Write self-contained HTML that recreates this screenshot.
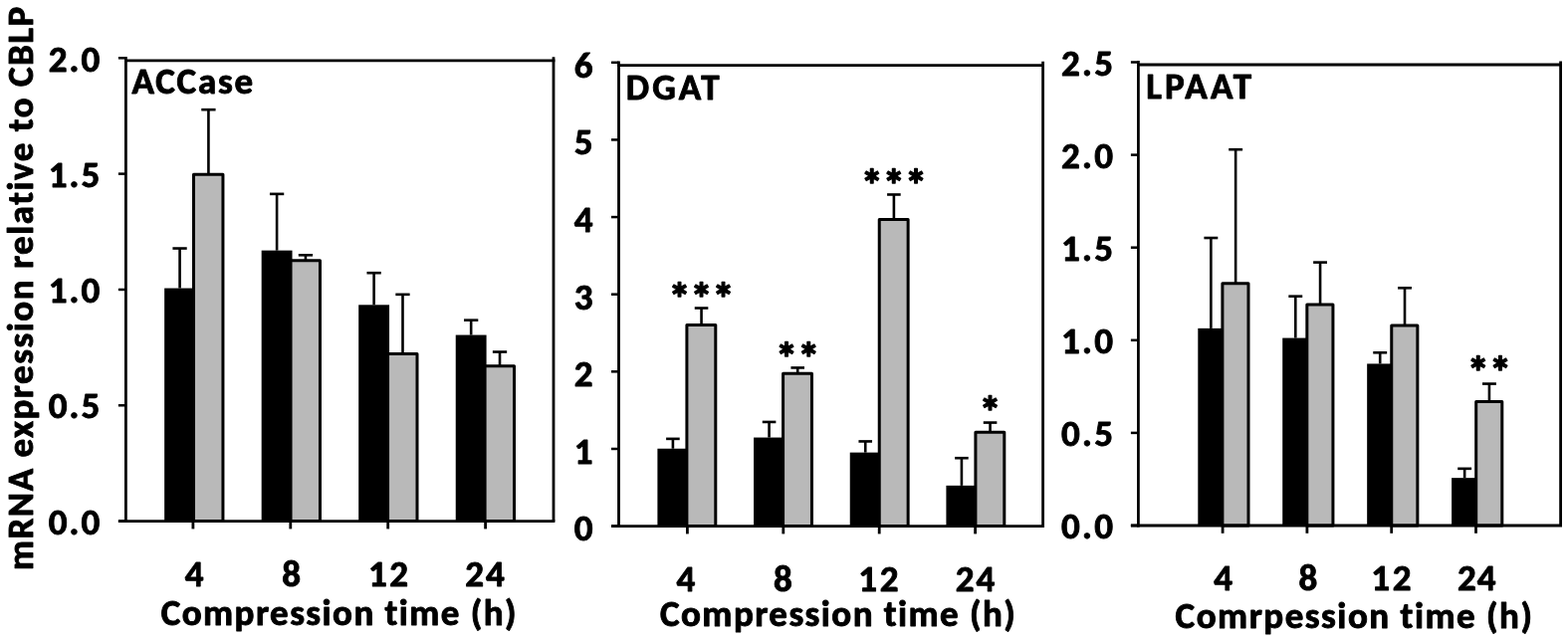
<!DOCTYPE html>
<html><head><meta charset="utf-8"><title>mRNA expression</title>
<style>html,body{margin:0;padding:0;background:#fff;}svg{display:block;filter:blur(0.5px);}</style></head>
<body><svg width="1575" height="645" viewBox="0 0 1575 645" font-family="Carlito, 'Liberation Sans', sans-serif" font-weight="bold" fill="#000" stroke="#000">
<rect x="0" y="0" width="1575" height="645" fill="#fff" stroke="none"/>
<g stroke="#000" fill="none" stroke-linecap="butt">
<rect x="165.15" y="289.55" width="30.85" height="234.05" fill="#000" stroke="none"/>
<rect x="194.50" y="175.32" width="29.45" height="348.28" fill="#b9b9b9" stroke="#000" stroke-width="3.0" stroke-linejoin="round"/>
<line x1="180.57" y1="289.55" x2="180.57" y2="249.54" stroke-width="2.6"/>
<line x1="173.42" y1="249.54" x2="187.72" y2="249.54" stroke-width="2.6"/>
<line x1="209.42" y1="175.32" x2="209.42" y2="110.18" stroke-width="2.6"/>
<line x1="202.27" y1="110.18" x2="216.57" y2="110.18" stroke-width="2.6"/>
<rect x="262.68" y="251.63" width="30.85" height="271.97" fill="#000" stroke="none"/>
<rect x="292.03" y="261.87" width="29.45" height="261.73" fill="#b9b9b9" stroke="#000" stroke-width="3.0" stroke-linejoin="round"/>
<line x1="278.10" y1="251.63" x2="278.10" y2="194.87" stroke-width="2.6"/>
<line x1="270.95" y1="194.87" x2="285.25" y2="194.87" stroke-width="2.6"/>
<line x1="306.95" y1="261.87" x2="306.95" y2="256.29" stroke-width="2.6"/>
<line x1="299.81" y1="256.29" x2="314.10" y2="256.29" stroke-width="2.6"/>
<rect x="360.21" y="306.30" width="30.85" height="217.30" fill="#000" stroke="none"/>
<rect x="389.56" y="355.39" width="29.45" height="168.21" fill="#b9b9b9" stroke="#000" stroke-width="3.0" stroke-linejoin="round"/>
<line x1="375.63" y1="306.30" x2="375.63" y2="274.20" stroke-width="2.6"/>
<line x1="368.49" y1="274.20" x2="382.78" y2="274.20" stroke-width="2.6"/>
<line x1="404.49" y1="355.39" x2="404.49" y2="295.84" stroke-width="2.6"/>
<line x1="397.34" y1="295.84" x2="411.63" y2="295.84" stroke-width="2.6"/>
<rect x="457.74" y="336.55" width="30.85" height="187.05" fill="#000" stroke="none"/>
<rect x="487.09" y="367.72" width="29.45" height="155.88" fill="#b9b9b9" stroke="#000" stroke-width="3.0" stroke-linejoin="round"/>
<line x1="473.17" y1="336.55" x2="473.17" y2="321.66" stroke-width="2.6"/>
<line x1="466.02" y1="321.66" x2="480.31" y2="321.66" stroke-width="2.6"/>
<line x1="502.02" y1="367.72" x2="502.02" y2="353.53" stroke-width="2.6"/>
<line x1="494.87" y1="353.53" x2="509.17" y2="353.53" stroke-width="2.6"/>
<line x1="126.40" y1="56.90" x2="126.40" y2="525.00" stroke-width="2.8"/>
<line x1="118.90" y1="523.60" x2="557.40" y2="523.60" stroke-width="2.8"/>
<line x1="125.00" y1="60.80" x2="557.40" y2="60.80" stroke-width="2.8"/>
<line x1="556.00" y1="57.30" x2="556.00" y2="523.60" stroke-width="2.8"/>
<line x1="118.90" y1="523.60" x2="126.40" y2="523.60" stroke-width="2.5"/>
<line x1="118.90" y1="407.28" x2="126.40" y2="407.28" stroke-width="2.5"/>
<line x1="118.90" y1="290.95" x2="126.40" y2="290.95" stroke-width="2.5"/>
<line x1="118.90" y1="174.62" x2="126.40" y2="174.62" stroke-width="2.5"/>
<line x1="118.90" y1="58.30" x2="126.40" y2="58.30" stroke-width="2.5"/>
<line x1="193.90" y1="523.60" x2="193.90" y2="531.40" stroke-width="2.8"/>
<line x1="291.80" y1="523.60" x2="291.80" y2="531.40" stroke-width="2.8"/>
<line x1="389.70" y1="523.60" x2="389.70" y2="531.40" stroke-width="2.8"/>
<line x1="487.60" y1="523.60" x2="487.60" y2="531.40" stroke-width="2.8"/>
<rect x="660.40" y="450.73" width="31.00" height="77.87" fill="#000" stroke="none"/>
<rect x="689.90" y="326.60" width="28.90" height="202.00" fill="#b9b9b9" stroke="#000" stroke-width="3.0" stroke-linejoin="round"/>
<line x1="675.90" y1="450.73" x2="675.90" y2="440.87" stroke-width="2.6"/>
<line x1="669.10" y1="440.87" x2="682.70" y2="440.87" stroke-width="2.6"/>
<line x1="704.55" y1="326.60" x2="704.55" y2="309.52" stroke-width="2.6"/>
<line x1="697.75" y1="309.52" x2="711.35" y2="309.52" stroke-width="2.6"/>
<rect x="757.07" y="439.55" width="31.00" height="89.05" fill="#000" stroke="none"/>
<rect x="786.57" y="375.35" width="28.90" height="153.25" fill="#b9b9b9" stroke="#000" stroke-width="3.0" stroke-linejoin="round"/>
<line x1="772.57" y1="439.55" x2="772.57" y2="423.95" stroke-width="2.6"/>
<line x1="765.77" y1="423.95" x2="779.37" y2="423.95" stroke-width="2.6"/>
<line x1="801.22" y1="375.35" x2="801.22" y2="369.45" stroke-width="2.6"/>
<line x1="794.42" y1="369.45" x2="808.02" y2="369.45" stroke-width="2.6"/>
<rect x="853.74" y="454.62" width="31.00" height="73.98" fill="#000" stroke="none"/>
<rect x="883.24" y="220.55" width="28.90" height="308.05" fill="#b9b9b9" stroke="#000" stroke-width="3.0" stroke-linejoin="round"/>
<line x1="869.24" y1="454.62" x2="869.24" y2="443.44" stroke-width="2.6"/>
<line x1="862.44" y1="443.44" x2="876.04" y2="443.44" stroke-width="2.6"/>
<line x1="897.89" y1="220.55" x2="897.89" y2="195.48" stroke-width="2.6"/>
<line x1="891.09" y1="195.48" x2="904.69" y2="195.48" stroke-width="2.6"/>
<rect x="950.41" y="487.84" width="31.00" height="40.76" fill="#000" stroke="none"/>
<rect x="979.91" y="434.28" width="28.90" height="94.32" fill="#b9b9b9" stroke="#000" stroke-width="3.0" stroke-linejoin="round"/>
<line x1="965.91" y1="487.84" x2="965.91" y2="460.21" stroke-width="2.6"/>
<line x1="959.11" y1="460.21" x2="972.71" y2="460.21" stroke-width="2.6"/>
<line x1="994.56" y1="434.28" x2="994.56" y2="424.57" stroke-width="2.6"/>
<line x1="987.76" y1="424.57" x2="1001.36" y2="424.57" stroke-width="2.6"/>
<line x1="621.50" y1="61.40" x2="621.50" y2="530.00" stroke-width="2.8"/>
<line x1="614.00" y1="528.60" x2="1049.00" y2="528.60" stroke-width="2.8"/>
<line x1="620.10" y1="65.60" x2="1049.00" y2="65.60" stroke-width="2.8"/>
<line x1="1047.60" y1="61.80" x2="1047.60" y2="528.60" stroke-width="2.8"/>
<line x1="614.00" y1="528.60" x2="621.50" y2="528.60" stroke-width="2.5"/>
<line x1="614.00" y1="450.97" x2="621.50" y2="450.97" stroke-width="2.5"/>
<line x1="614.00" y1="373.33" x2="621.50" y2="373.33" stroke-width="2.5"/>
<line x1="614.00" y1="295.70" x2="621.50" y2="295.70" stroke-width="2.5"/>
<line x1="614.00" y1="218.07" x2="621.50" y2="218.07" stroke-width="2.5"/>
<line x1="614.00" y1="140.43" x2="621.50" y2="140.43" stroke-width="2.5"/>
<line x1="614.00" y1="62.80" x2="621.50" y2="62.80" stroke-width="2.5"/>
<line x1="690.40" y1="528.60" x2="690.40" y2="536.40" stroke-width="2.8"/>
<line x1="786.80" y1="528.60" x2="786.80" y2="536.40" stroke-width="2.8"/>
<line x1="883.20" y1="528.60" x2="883.20" y2="536.40" stroke-width="2.8"/>
<line x1="979.60" y1="528.60" x2="979.60" y2="536.40" stroke-width="2.8"/>
<rect x="1203.30" y="329.88" width="26.10" height="198.12" fill="#000" stroke="none"/>
<rect x="1227.90" y="284.64" width="26.10" height="243.36" fill="#b9b9b9" stroke="#000" stroke-width="3.0" stroke-linejoin="round"/>
<line x1="1216.35" y1="329.88" x2="1216.35" y2="239.02" stroke-width="2.6"/>
<line x1="1209.40" y1="239.02" x2="1223.30" y2="239.02" stroke-width="2.6"/>
<line x1="1241.15" y1="284.64" x2="1241.15" y2="150.20" stroke-width="2.6"/>
<line x1="1234.20" y1="150.20" x2="1248.10" y2="150.20" stroke-width="2.6"/>
<rect x="1288.23" y="339.57" width="26.10" height="188.43" fill="#000" stroke="none"/>
<rect x="1312.83" y="306.05" width="26.10" height="221.95" fill="#b9b9b9" stroke="#000" stroke-width="3.0" stroke-linejoin="round"/>
<line x1="1301.28" y1="339.57" x2="1301.28" y2="297.67" stroke-width="2.6"/>
<line x1="1294.33" y1="297.67" x2="1308.23" y2="297.67" stroke-width="2.6"/>
<line x1="1326.08" y1="306.05" x2="1326.08" y2="263.60" stroke-width="2.6"/>
<line x1="1319.13" y1="263.60" x2="1333.03" y2="263.60" stroke-width="2.6"/>
<rect x="1373.16" y="365.45" width="26.10" height="162.55" fill="#000" stroke="none"/>
<rect x="1397.76" y="327.09" width="26.10" height="200.91" fill="#b9b9b9" stroke="#000" stroke-width="3.0" stroke-linejoin="round"/>
<line x1="1386.21" y1="365.45" x2="1386.21" y2="354.28" stroke-width="2.6"/>
<line x1="1379.26" y1="354.28" x2="1393.16" y2="354.28" stroke-width="2.6"/>
<line x1="1411.01" y1="327.09" x2="1411.01" y2="289.29" stroke-width="2.6"/>
<line x1="1404.06" y1="289.29" x2="1417.96" y2="289.29" stroke-width="2.6"/>
<rect x="1458.09" y="480.15" width="26.10" height="47.85" fill="#000" stroke="none"/>
<rect x="1482.69" y="403.62" width="26.10" height="124.38" fill="#b9b9b9" stroke="#000" stroke-width="3.0" stroke-linejoin="round"/>
<line x1="1471.14" y1="480.15" x2="1471.14" y2="470.84" stroke-width="2.6"/>
<line x1="1464.19" y1="470.84" x2="1478.09" y2="470.84" stroke-width="2.6"/>
<line x1="1495.94" y1="403.62" x2="1495.94" y2="385.56" stroke-width="2.6"/>
<line x1="1488.99" y1="385.56" x2="1502.89" y2="385.56" stroke-width="2.6"/>
<line x1="1143.40" y1="61.10" x2="1143.40" y2="529.40" stroke-width="2.8"/>
<line x1="1135.90" y1="528.00" x2="1569.00" y2="528.00" stroke-width="2.8"/>
<line x1="1142.00" y1="65.00" x2="1569.00" y2="65.00" stroke-width="2.8"/>
<line x1="1567.60" y1="61.50" x2="1567.60" y2="528.00" stroke-width="2.8"/>
<line x1="1135.90" y1="528.00" x2="1143.40" y2="528.00" stroke-width="2.5"/>
<line x1="1135.90" y1="434.90" x2="1143.40" y2="434.90" stroke-width="2.5"/>
<line x1="1135.90" y1="341.80" x2="1143.40" y2="341.80" stroke-width="2.5"/>
<line x1="1135.90" y1="248.70" x2="1143.40" y2="248.70" stroke-width="2.5"/>
<line x1="1135.90" y1="155.60" x2="1143.40" y2="155.60" stroke-width="2.5"/>
<line x1="1135.90" y1="62.50" x2="1143.40" y2="62.50" stroke-width="2.5"/>
<line x1="1228.10" y1="528.00" x2="1228.10" y2="535.80" stroke-width="2.8"/>
<line x1="1312.90" y1="528.00" x2="1312.90" y2="535.80" stroke-width="2.8"/>
<line x1="1397.70" y1="528.00" x2="1397.70" y2="535.80" stroke-width="2.8"/>
<line x1="1482.50" y1="528.00" x2="1482.50" y2="535.80" stroke-width="2.8"/>
</g>
<g stroke="#000" stroke-width="0.9" stroke-linejoin="round" fill="#000" style="font-variant-ligatures:none;font-feature-settings:'liga' 0,'clig' 0">
<text x="48.76" y="536.80" font-size="37" textLength="51.49">0.0</text>
<text x="48.76" y="420.48" font-size="37" textLength="51.49">0.5</text>
<text x="48.76" y="304.15" font-size="37" textLength="51.49">1.0</text>
<text x="48.76" y="187.82" font-size="37" textLength="51.49">1.5</text>
<text x="48.76" y="71.50" font-size="37" textLength="51.49">2.0</text>
<text x="185.77" y="588.60" font-size="37">4</text>
<text x="283.32" y="588.60" font-size="37">8</text>
<text x="369.97" y="588.60" font-size="37" textLength="40.16">12</text>
<text x="467.20" y="588.60" font-size="37" textLength="39.51">24</text>
<text x="132.48" y="93.90" font-size="37" textLength="121.59">ACCase</text>
<text x="161.69" y="628.00" font-size="37" textLength="356.82">Compression time (h)</text>
<text x="576.65" y="543.40" font-size="37">0</text>
<text x="576.65" y="465.77" font-size="37">1</text>
<text x="576.65" y="388.13" font-size="37">2</text>
<text x="576.65" y="310.50" font-size="37">3</text>
<text x="576.65" y="232.87" font-size="37">4</text>
<text x="576.65" y="155.23" font-size="37">5</text>
<text x="576.65" y="77.60" font-size="37">6</text>
<text x="679.62" y="593.60" font-size="37">4</text>
<text x="776.97" y="593.60" font-size="37">8</text>
<text x="862.17" y="593.60" font-size="37" textLength="40.26">12</text>
<text x="959.70" y="593.60" font-size="37" textLength="39.51">24</text>
<text x="628.85" y="100.30" font-size="37" textLength="93.82">DGAT</text>
<text x="662.99" y="629.20" font-size="37" textLength="356.72">Compression time (h)</text>
<text x="704.55" y="315.47" font-size="44.4" text-anchor="middle" stroke="#000" stroke-width="1.4" stroke-linejoin="round">***</text>
<text x="801.22" y="375.40" font-size="44.4" text-anchor="middle" stroke="#000" stroke-width="1.4" stroke-linejoin="round">**</text>
<text x="897.89" y="201.43" font-size="44.4" text-anchor="middle" stroke="#000" stroke-width="1.4" stroke-linejoin="round">***</text>
<text x="994.56" y="429.32" font-size="44.4" text-anchor="middle" stroke="#000" stroke-width="1.4" stroke-linejoin="round">*</text>
<text x="1066.06" y="541.10" font-size="37" textLength="51.99">0.0</text>
<text x="1066.06" y="448.00" font-size="37" textLength="51.99">0.5</text>
<text x="1066.06" y="354.90" font-size="37" textLength="51.99">1.0</text>
<text x="1066.06" y="261.80" font-size="37" textLength="51.99">1.5</text>
<text x="1066.06" y="168.70" font-size="37" textLength="51.99">2.0</text>
<text x="1066.06" y="75.60" font-size="37" textLength="51.99">2.5</text>
<text x="1219.27" y="593.40" font-size="37">4</text>
<text x="1304.42" y="593.40" font-size="37">8</text>
<text x="1377.37" y="593.40" font-size="37" textLength="40.26">12</text>
<text x="1464.00" y="593.40" font-size="37" textLength="38.61">24</text>
<text x="1151.20" y="99.20" font-size="37" textLength="105.78">LPAAT</text>
<text x="1180.59" y="630.90" font-size="37" textLength="358.42">Comrpession time (h)</text>
<text x="1495.94" y="389.41" font-size="44.4" text-anchor="middle" stroke="#000" stroke-width="1.4" stroke-linejoin="round">**</text>
<text transform="translate(33.2,573.06) rotate(-90)" x="0" y="0" font-size="37" textLength="566.17">mRNA expression relative to CBLP</text>
</g>
</svg></body></html>
